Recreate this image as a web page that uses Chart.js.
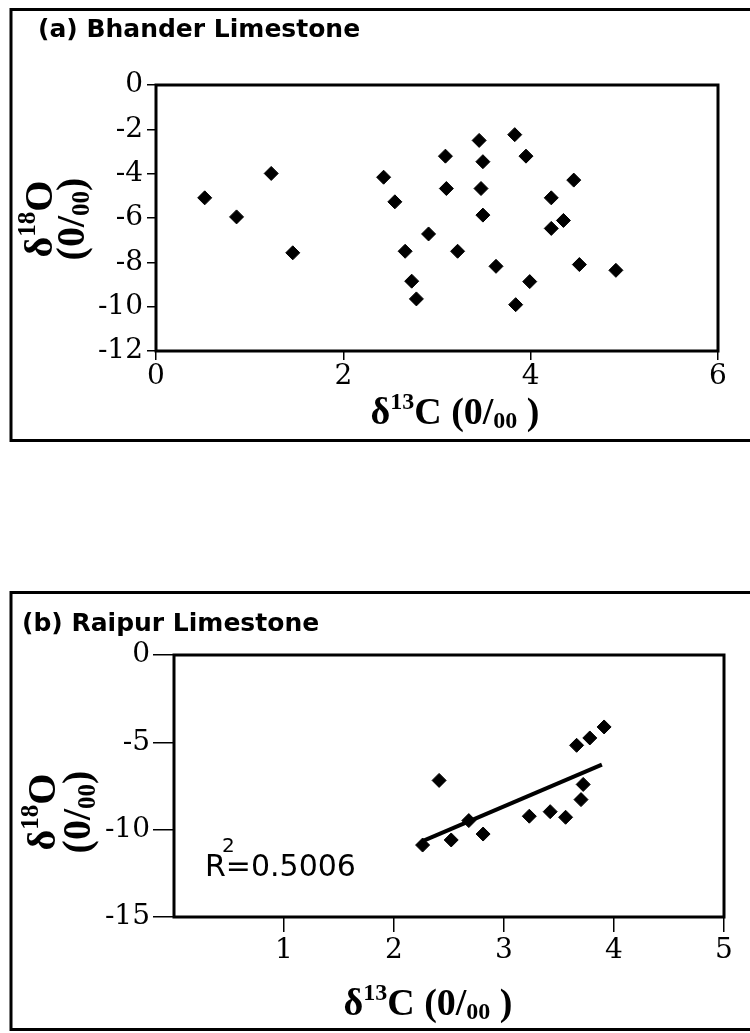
<!DOCTYPE html>
<html>
<head>
<meta charset="utf-8">
<script src="https://cdn.jsdelivr.net/npm/chart.js@4/dist/chart.umd.min.js"></script>
<style>
  body { margin: 0; background: #fff; }
  canvas { position: absolute; left: 0; }
</style>
</head>
<body>
<canvas id="chartA" width="750" height="450" style="top:0"></canvas>
<canvas id="chartB" width="750" height="448" style="top:585px"></canvas>
<script>
// (a) Bhander Limestone
const carbonA = [0.52, 0.86, 1.23, 1.46, 2.43, 2.55, 2.66, 2.73, 2.78, 2.91, 3.09, 3.10, 3.22, 3.45,
                 3.49, 3.47, 3.49, 3.63, 3.83, 3.95, 3.99, 3.84, 4.22, 4.46, 4.35, 4.22, 4.52, 4.91];
const oxygenA = [-5.09, -5.95, -3.99, -7.57, -4.16, -5.27, -7.50, -8.85, -9.65, -6.72, -3.21, -4.67, -7.50, -2.50,
                 -3.46, -4.67, -5.87, -8.18, -2.24, -3.21, -8.87, -9.91, -5.09, -4.29, -6.11, -6.47, -8.10, -8.36];
const xTicksA = [0, 2, 4, 6];
const yTicksA = [0, -2, -4, -6, -8, -10, -12];

// (b) Raipur Limestone
const carbonB = [2.26, 2.41, 2.52, 2.68, 2.81, 3.23, 3.42, 3.56, 3.66, 3.78, 3.91, 3.72, 3.70];
const oxygenB = [-10.88, -7.18, -10.59, -9.48, -10.25, -9.23, -8.97, -9.29, -5.17, -4.75, -4.12, -7.41, -8.28];
const trendC = [2.27, 3.89];
const trendO = [-10.63, -6.28];
const xTicksB = [1, 2, 3, 4, 5];
const yTicksB = [0, -5, -10, -15];

const tickFont = { family: 'DejaVu Serif', size: 28 };
const bigSerif = 'bold 38px "Liberation Serif"';
const smallSerif = 'bold 24px "Liberation Serif"';
const bigSerifY = 'bold 40px "Liberation Serif"';
const smallSerifY = 'bold 25px "Liberation Serif"';

function toPoints(xs, ys) {
  return xs.map((x, i) => ({ x: x, y: ys[i] }));
}

function richText(ctx, parts, x, y) {
  let w = 0;
  parts.forEach(p => { ctx.font = p[1]; w += ctx.measureText(p[0]).width; });
  let cx = x - w / 2;
  parts.forEach(p => {
    ctx.font = p[1];
    ctx.fillText(p[0], cx, y + (p[2] || 0));
    cx += ctx.measureText(p[0]).width;
  });
}

function framePlugin(o) {
  return {
    id: 'frame',
    beforeDraw(chart) {
      const ctx = chart.ctx;
      ctx.save();
      ctx.fillStyle = '#fff';
      ctx.fillRect(0, 0, chart.width, chart.height);
      ctx.strokeStyle = '#000';
      ctx.lineWidth = 3;
      ctx.strokeRect(o.box[0], o.box[1], o.box[2], o.box[3]);
      ctx.restore();
    },
    afterDraw(chart) {
      const ctx = chart.ctx;
      const a = chart.chartArea;
      ctx.save();
      ctx.strokeStyle = '#000';
      ctx.lineWidth = 3;
      ctx.strokeRect(a.left, a.top, a.right - a.left, a.bottom - a.top);

      ctx.fillStyle = '#000';
      ctx.textAlign = 'left';
      ctx.textBaseline = 'alphabetic';
      ctx.font = 'bold 25px "DejaVu Sans"';
      ctx.fillText(o.title, o.titlePos[0], o.titlePos[1]);

      richText(ctx, [['δ', bigSerif], ['13', smallSerif, -15], ['C (0/', bigSerif], ['00', smallSerif, 4], [' )', bigSerif]],
        o.xTitle[0], o.xTitle[1]);

      ctx.save();
      ctx.translate(o.yTitle[0], o.yTitle[2]);
      ctx.rotate(-Math.PI / 2);
      richText(ctx, [['δ', bigSerifY], ['18', smallSerifY, -17], ['O', bigSerifY]], 0, 0);
      ctx.restore();
      ctx.save();
      ctx.translate(o.yTitle[1], o.yTitle[2]);
      ctx.rotate(-Math.PI / 2);
      richText(ctx, [['(0/', bigSerifY], ['00', smallSerifY, 5], [')', bigSerifY]], 0, 0);
      ctx.restore();

      if (o.r2) {
        ctx.font = '30px "DejaVu Sans"';
        ctx.fillText('R=0.5006', o.r2[0], o.r2[1]);
        ctx.font = '20px "DejaVu Sans"';
        ctx.fillText('2', o.r2[0] + 17, o.r2[1] - 24);
      }
      ctx.restore();
    }
  };
}

function axis(min, max, ticks, tickLen, pad, size, isX) {
  return {
    type: 'linear',
    min: min,
    max: max,
    afterBuildTicks: s => { s.ticks = ticks.map(v => ({ value: v })); },
    afterFit: s => { if (isX) s.height = size; else s.width = size; },
    ticks: { font: tickFont, color: '#000', padding: pad, maxRotation: 0, autoSkip: false },
    grid: { display: true, drawOnChartArea: false, drawTicks: true, tickLength: tickLen, color: '#000', lineWidth: 1.5 },
    border: { display: false }
  };
}

const pointStyle = {
  backgroundColor: '#000',
  borderColor: '#000',
  borderWidth: 1,
  pointStyle: 'rectRot',
  pointRadius: 7,
  pointHoverRadius: 7
};

new Chart(document.getElementById('chartA'), {
  type: 'scatter',
  data: {
    datasets: [
      Object.assign({ label: 'Bhander', data: toPoints(carbonA, oxygenA) }, pointStyle)
    ]
  },
  options: {
    responsive: false,
    animation: false,
    layout: { padding: { left: 86, top: 85, right: 32, bottom: 54 } },
    plugins: { legend: { display: false }, tooltip: { enabled: false } },
    scales: {
      x: axis(0, 6, xTicksA, 9, 0, 45, true),
      y: axis(-12, 0, yTicksA, 9, 4, 70, false)
    }
  },
  plugins: [framePlugin({
    box: [11, 9.5, 745, 431],
    title: '(a) Bhander Limestone',
    titlePos: [38, 37],
    xTitle: [455, 424],
    yTitle: [52, 84, 219]
  })]
});

new Chart(document.getElementById('chartB'), {
  type: 'scatter',
  data: {
    datasets: [
      Object.assign({ label: 'Raipur', data: toPoints(carbonB, oxygenB) }, pointStyle),
      {
        type: 'line',
        label: 'Linear fit',
        data: toPoints(trendC, trendO),
        showLine: true,
        borderColor: '#000',
        borderWidth: 4,
        pointRadius: 0
      }
    ]
  },
  options: {
    responsive: false,
    animation: false,
    layout: { padding: { left: 94, top: 70, right: 26, bottom: 66 } },
    plugins: { legend: { display: false }, tooltip: { enabled: false } },
    scales: {
      x: axis(0, 5, xTicksB, 15, 2, 50, true),
      y: axis(-15, 0, yTicksB, 21, 3, 80, false)
    }
  },
  plugins: [framePlugin({
    box: [11, 7.5, 745, 437],
    title: '(b) Raipur Limestone',
    titlePos: [22, 46],
    xTitle: [428, 430],
    yTitle: [55, 90, 227],
    r2: [205, 291]
  })]
});
</script>
</body>
</html>
